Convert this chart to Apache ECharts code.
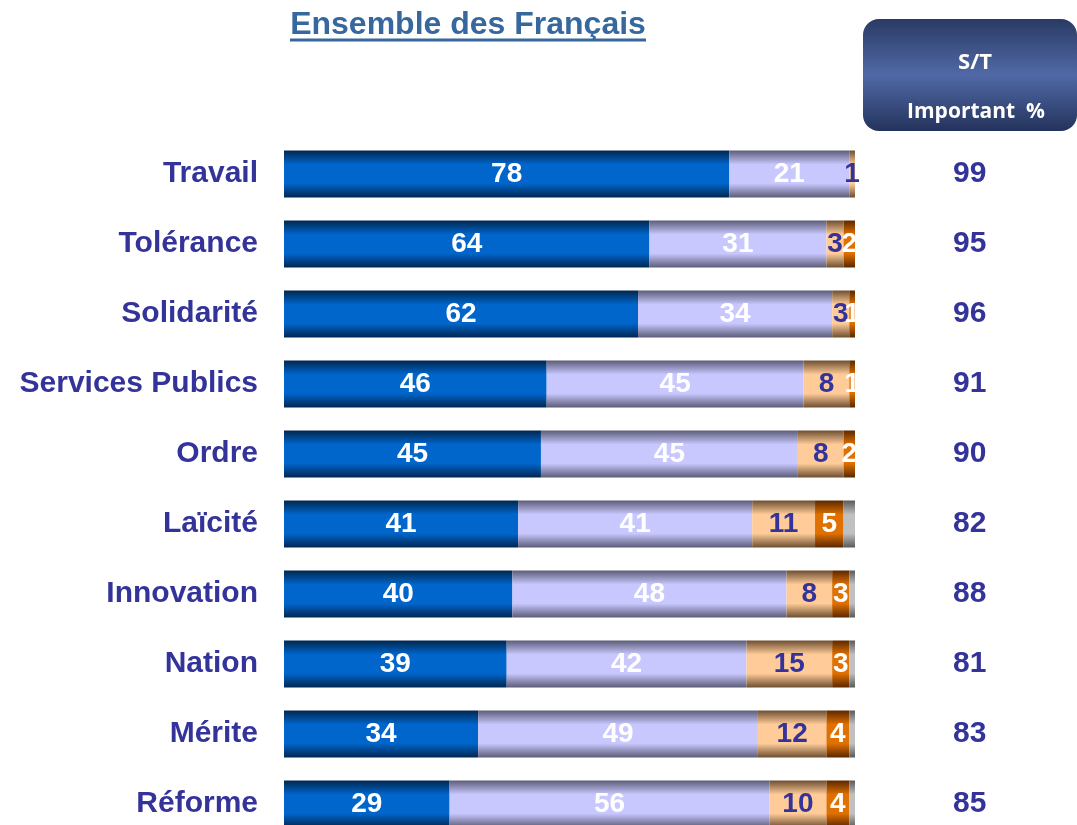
<!DOCTYPE html>
<html>
<head>
<meta charset="utf-8">
<script src="https://cdn.jsdelivr.net/npm/echarts@6/dist/echarts.min.js"></script>
<style>
  html, body { margin: 0; padding: 0; background: #fff; }
  #chart { width: 1077px; height: 825px; }
</style>
</head>
<body>
<div id="chart"></div>
<script>
// valeurs
var categories = ['Travail', 'Tolérance', 'Solidarité', 'Services Publics', 'Ordre', 'Laïcité', 'Innovation', 'Nation', 'Mérite', 'Réforme'];
var tresImportant = [78, 64, 62, 46, 45, 41, 40, 39, 34, 29];
var plutotImportant = [21, 31, 34, 45, 45, 41, 48, 42, 49, 56];
var pasTres = [1, 3, 3, 8, 8, 11, 8, 15, 12, 10];
var pasDuTout = [0, 2, 1, 1, 2, 5, 3, 3, 4, 4];
var nsp = [0, 0, 0, 0, 0, 2, 1, 1, 1, 1];
var stImportant = [99, 95, 96, 91, 90, 82, 88, 81, 83, 85];

var chart = echarts.init(document.getElementById('chart'));

function grad(edge, mid) {
    return new echarts.graphic.LinearGradient(0, 0, 0, 1, [
        { offset: 0, color: edge },
        { offset: 0.3, color: mid },
        { offset: 0.7, color: mid },
        { offset: 1, color: edge }
    ]);
}

function makeSerie(name, data, edge, mid, labelColor) {
    return {
        name: name,
        type: 'bar',
        stack: 'total',
        barWidth: 47,
        clip: false,
        data: data,
        itemStyle: { color: grad(edge, mid) },
        label: {
            show: labelColor != null,
            position: 'inside',
            color: labelColor,
            fontFamily: 'Arial, Liberation Sans',
            fontWeight: 'bold',
            fontSize: 28,
            formatter: function(p) { return p.value ? p.value : ''; }
        }
    };
}

var axisFont = {
    color: '#333399',
    fontFamily: 'Arial, Liberation Sans',
    fontWeight: 'bold',
    fontSize: 30
};

var option = {
    animation: false,
    // boundaryGap false : une ligne tous les 70 px, de 174 à 804
    grid: { left: 284, top: 174, width: 571, height: 630 },
    xAxis: { type: 'value', min: 0, max: 100, show: false },
    yAxis: [{
        type: 'category',
        inverse: true,
        boundaryGap: false,
        data: categories,
        axisLine: { show: false },
        axisTick: { show: false },
        splitLine: { show: false },
        axisLabel: Object.assign({ margin: 26 }, axisFont)
    }, {
        type: 'category',
        inverse: true,
        boundaryGap: false,
        position: 'right',
        data: stImportant,
        axisLine: { show: false },
        axisTick: { show: false },
        splitLine: { show: false },
        axisLabel: Object.assign({ margin: 98 }, axisFont)
    }],
    series: [
        makeSerie('Très important', tresImportant, '#00264f', '#0066cc', '#ffffff'),
        makeSerie('Plutôt important', plutotImportant, '#5c5c78', '#c8c8ff', '#ffffff'),
        makeSerie('Pas très important', pasTres, '#6e4e30', '#ffcc99', '#333399'),
        makeSerie('Pas du tout important', pasDuTout, '#5a2800', '#e07000', '#ffffff'),
        makeSerie('NSP', nsp, '#5a5a5a', '#c0c0c0', null)
    ],
    graphic: [
        {
            type: 'text',
            x: 468,
            y: 25,
            style: {
                text: 'Ensemble des Français',
                fill: '#36689e',
                font: 'bold 32px Arial, Liberation Sans',
                align: 'center',
                verticalAlign: 'middle'
            }
        },
        {
            type: 'line',
            shape: { x1: 290, y1: 40, x2: 646, y2: 40 },
            style: { stroke: '#36689e', lineWidth: 3 }
        },
        {
            type: 'rect',
            shape: { x: 863, y: 19, width: 214, height: 112, r: 16 },
            style: {
                fill: new echarts.graphic.LinearGradient(0, 0, 0, 1, [
                    { offset: 0, color: '#2a3a64' },
                    { offset: 0.5, color: '#5069a6' },
                    { offset: 1, color: '#24335c' }
                ])
            }
        },
        {
            type: 'text',
            x: 975,
            y: 63,
            style: {
                text: 'S/T',
                fill: '#ffffff',
                font: 'bold 22px "Open Sans", sans-serif',
                align: 'center',
                verticalAlign: 'middle'
            }
        },
        {
            type: 'text',
            x: 976,
            y: 112,
            style: {
                text: 'Important  %',
                fill: '#ffffff',
                font: 'bold 21px "Open Sans", sans-serif',
                align: 'center',
                verticalAlign: 'middle'
            }
        }
    ]
};
chart.setOption(option);
</script>
</body>
</html>
